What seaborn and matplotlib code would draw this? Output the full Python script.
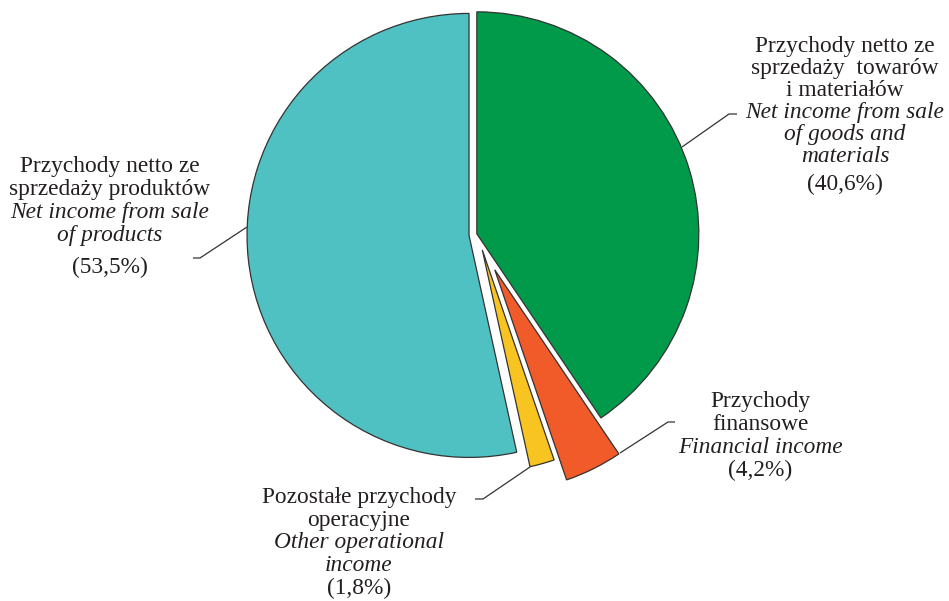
import numpy as np
import matplotlib.pyplot as plt
import seaborn as sns

# dane: struktura przychodów (%)
shares = [40.6, 4.2, 1.8, 53.5]
pct_labels = ["(40,6%)", "(4,2%)", "(1,8%)", "(53,5%)"]
names_pl = [
    ["Przychody netto ze", "sprzedaży  towarów", "i materiałów"],
    ["Przychody", "finansowe"],
    ["Pozostałe przychody", "operacyjne"],
    ["Przychody netto ze", "sprzedaży produktów"],
]
names_en = [
    ["Net income from sale", "of goods and", "materials"],
    ["Financial income"],
    ["Other operational", "income"],
    ["Net income from sale", "of products"],
]
colors = ["#009a4a", "#f15a29", "#f8c421", "#4fc1c2"]
explode = [0.018, 0.0, 0.0, 0.018]
# małe wycinki wysunięte wspólnie w jednym kierunku (kąt od godz. 12, zgodnie z zegarem)
pull_out = {1: 0.185, 2: 0.079}
pull_angle = 148

sns.set_theme(style="white")
plt.rcParams['font.family'] = ['Liberation Serif', 'DejaVu Serif']

W, H = 949, 601
CX, CY, R = 473, 235, 222   # środek i promień koła w pikselach


def px(x, y):
    return ((x - CX) / R, (CY - y) / R)


fig = plt.figure(figsize=(W / 100, H / 100), dpi=100)
ax = fig.add_axes([0, 0, 1, 1])
wedges, _ = ax.pie(shares, startangle=90, counterclock=False, colors=colors,
                   explode=explode, radius=1,
                   wedgeprops=dict(edgecolor="#333333", linewidth=0.9))
a = np.deg2rad(pull_angle)
for i, d in pull_out.items():
    wedges[i].set_center((d * np.sin(a), d * np.cos(a)))
ax.set_xlim(px(0, 0)[0], px(W, 0)[0])
ax.set_ylim(px(0, H)[1], px(0, 0)[1])
ax.set_aspect('equal')
ax.axis('off')

# rozmieszczenie etykiet: (x środka, linie bazowe kolejnych wierszy)
label_pos = [
    (845, [52, 74, 96, 118, 140, 162, 190]),
    (760, [407, 430, 453, 476]),
    (359, [503, 526, 548, 571, 594]),
    (110, [172, 195, 218, 241, 273]),
]
leaders = [
    [(682, 147), (729, 114), (737, 114)],
    [(620, 453), (668, 422), (675, 422)],
    [(530, 467), (483, 499), (475, 499)],
    [(247, 227), (200, 258), (193, 258)],
]

FS = 16.8
for i in range(len(shares)):
    cx, ys = label_pos[i]
    lines = ([(t, 'normal') for t in names_pl[i]]
             + [(t, 'italic') for t in names_en[i]]
             + [(pct_labels[i], 'normal')])
    for (txt, st), yb in zip(lines, ys):
        ax.text(*px(cx, yb), txt, ha='center', va='baseline',
                fontsize=FS, fontstyle=st, color="#231f20")
    pts = [px(x, y) for x, y in leaders[i]]
    ax.plot([p[0] for p in pts], [p[1] for p in pts],
            color="#333333", lw=0.9, solid_capstyle='butt')

fig.savefig("out.png", dpi=100, facecolor="white")
